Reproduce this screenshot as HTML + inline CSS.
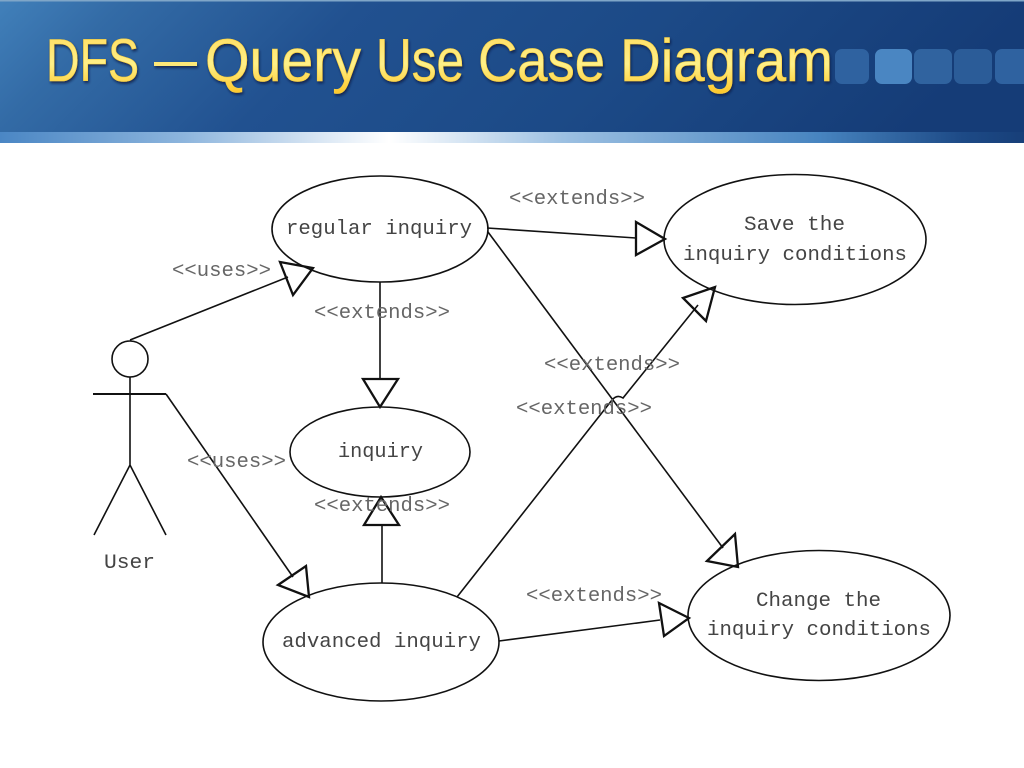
<!DOCTYPE html>
<html>
<head>
<meta charset="utf-8">
<style>
html,body{margin:0;padding:0;background:#fff;width:1024px;height:768px;overflow:hidden}
svg{display:block}
.t{font-family:"Liberation Mono",monospace;font-size:20.6px;fill:#444}
.l{font-family:"Liberation Mono",monospace;font-size:20.6px;fill:#666}
.h{font-family:"Liberation Sans",sans-serif;font-size:60px;fill:url(#ti);stroke:#f8d040;stroke-width:.6}
</style>
</head>
<body>
<svg width="1024" height="768" viewBox="0 0 1024 768" xmlns="http://www.w3.org/2000/svg">
<defs>
<linearGradient id="bg" x1="0" y1="0" x2="1" y2="0.13">
<stop offset="0" stop-color="#4180ba"/>
<stop offset="0.12" stop-color="#336ba6"/>
<stop offset="0.35" stop-color="#215190"/>
<stop offset="0.65" stop-color="#1c4a87"/>
<stop offset="1" stop-color="#153c77"/>
</linearGradient>
<linearGradient id="st" x1="0" y1="0" x2="1" y2="0">
<stop offset="0" stop-color="#4a86c4"/>
<stop offset="0.18" stop-color="#8db5dd"/>
<stop offset="0.38" stop-color="#ffffff"/>
<stop offset="0.55" stop-color="#9cc0e2"/>
<stop offset="0.8" stop-color="#4784c0"/>
<stop offset="0.94" stop-color="#1d4a86"/>
<stop offset="1" stop-color="#173f79"/>
</linearGradient>
<linearGradient id="ti" gradientUnits="userSpaceOnUse" x1="0" y1="36" x2="0" y2="92">
<stop offset="0" stop-color="#ffdf66"/>
<stop offset="0.5" stop-color="#fff088"/>
<stop offset="1" stop-color="#fdc92e"/>
</linearGradient>
<filter id="sh" x="-5%" y="-20%" width="110%" height="150%">
<feDropShadow dx="1" dy="2" stdDeviation="1.2" flood-color="#0a1c3c" flood-opacity="0.8"/>
</filter>
</defs>

<rect x="0" y="0" width="1024" height="133" fill="url(#bg)"/>
<rect x="0" y="0" width="1024" height="1.5" fill="#7fa6c8"/>
<rect x="0" y="132" width="1024" height="11" fill="url(#st)"/>

<rect x="835" y="49" width="34" height="35" rx="7" fill="#2f62a0"/>
<rect x="875" y="49" width="37" height="35" rx="7" fill="#4a86c2"/>
<rect x="914" y="49" width="38" height="35" rx="7" fill="#30639f"/>
<rect x="954" y="49" width="38" height="35" rx="7" fill="#2b5c98"/>
<rect x="995" y="49" width="40" height="35" rx="7" fill="#2f62a0"/>

<g filter="url(#sh)">
<text class="h" x="46" y="81" textLength="93" lengthAdjust="spacingAndGlyphs">DFS</text>
<rect x="154" y="62" width="43" height="4" fill="#fde878"/>
<text class="h" x="205" y="81" textLength="156" lengthAdjust="spacingAndGlyphs">Query</text>
<text class="h" x="376" y="81" textLength="88" lengthAdjust="spacingAndGlyphs">Use</text>
<text class="h" x="478" y="81" textLength="127" lengthAdjust="spacingAndGlyphs">Case</text>
<text class="h" x="620" y="81" textLength="213" lengthAdjust="spacingAndGlyphs">Diagram</text>
</g>

<g fill="none" stroke="#111" stroke-width="1.6">
<ellipse cx="380" cy="229" rx="108" ry="53"/>
<ellipse cx="795" cy="239.5" rx="131" ry="65"/>
<ellipse cx="380" cy="452" rx="90" ry="45"/>
<ellipse cx="381" cy="642" rx="118" ry="59"/>
<ellipse cx="819" cy="615.5" rx="131" ry="65"/>

<circle cx="130" cy="359" r="18"/>
<path d="M130 377V465M130 465L94 535M130 465L166 535"/>
<path d="M93 394H166" stroke-width="2"/>

<path d="M130 340L288 277"/>
<path d="M166 394L293 577"/>
<path d="M380 282V379"/>
<path d="M382 583V525"/>
<path d="M487 228L636 238"/>
<path d="M488 232L723 548"/>
<path d="M457 597L612 400Q617 394 623 398L698 305"/>
<path d="M499 641L660 620"/>
</g>

<g fill="none" stroke="#111" stroke-width="2.3" stroke-linejoin="miter">
<path d="M280 262L313 268L293 295Z"/>
<path d="M278 585L306 566L309 597Z"/>
<path d="M363 379H398L380 407Z"/>
<path d="M364 525H399L381 497Z"/>
<path d="M636 222L665 239L636 255Z"/>
<path d="M707 561L735 534L738 567Z"/>
<path d="M683 298L715 287L706 321Z"/>
<path d="M659 603L689 618L664 636Z"/>
</g>

<text class="t" x="286" y="234" textLength="186" lengthAdjust="spacingAndGlyphs">regular inquiry</text>
<text class="t" x="744" y="230" textLength="101" lengthAdjust="spacingAndGlyphs">Save the</text>
<text class="t" x="683" y="260" textLength="224" lengthAdjust="spacingAndGlyphs">inquiry conditions</text>
<text class="t" x="338" y="457" textLength="85" lengthAdjust="spacingAndGlyphs">inquiry</text>
<text class="t" x="282" y="647" textLength="199" lengthAdjust="spacingAndGlyphs">advanced inquiry</text>
<text class="t" x="756" y="606" textLength="125" lengthAdjust="spacingAndGlyphs">Change the</text>
<text class="t" x="707" y="635" textLength="224" lengthAdjust="spacingAndGlyphs">inquiry conditions</text>
<text class="t" x="104" y="568" textLength="51" lengthAdjust="spacingAndGlyphs">User</text>

<text class="l" x="172" y="276" textLength="99" lengthAdjust="spacingAndGlyphs">&lt;&lt;uses&gt;&gt;</text>
<text class="l" x="187" y="467" textLength="99" lengthAdjust="spacingAndGlyphs">&lt;&lt;uses&gt;&gt;</text>
<text class="l" x="509" y="204" textLength="136" lengthAdjust="spacingAndGlyphs">&lt;&lt;extends&gt;&gt;</text>
<text class="l" x="314" y="318" textLength="136" lengthAdjust="spacingAndGlyphs">&lt;&lt;extends&gt;&gt;</text>
<text class="l" x="544" y="370" textLength="136" lengthAdjust="spacingAndGlyphs">&lt;&lt;extends&gt;&gt;</text>
<text class="l" x="516" y="414" textLength="136" lengthAdjust="spacingAndGlyphs">&lt;&lt;extends&gt;&gt;</text>
<text class="l" x="314" y="511" textLength="136" lengthAdjust="spacingAndGlyphs">&lt;&lt;extends&gt;&gt;</text>
<text class="l" x="526" y="601" textLength="136" lengthAdjust="spacingAndGlyphs">&lt;&lt;extends&gt;&gt;</text>
</svg>
</body>
</html>
